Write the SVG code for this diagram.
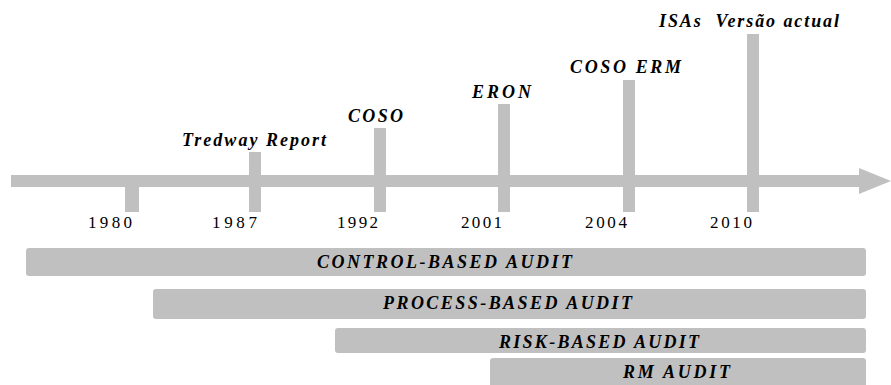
<svg xmlns="http://www.w3.org/2000/svg" width="891" height="385" viewBox="0 0 891 385">
  <style>
    .g { fill: #c0c0c0; }
    .yr { font-family: 'Liberation Serif', 'DejaVu Serif', serif; font-size: 17px; fill: #000; }
    .lb { font-family: 'Liberation Serif', 'DejaVu Serif', serif; font-size: 18px; font-weight: bold; font-style: italic; fill: #000; }
  </style>
  <rect width="891" height="385" fill="#ffffff"/>
  <g id="connectors">
    <g id="axis">
      <rect class="g" x="11" y="175" width="849" height="12"/>
      <polygon class="g" points="859,168 891,181 859,194"/>
    </g>
  </g>
  <g id="tick-1980">
    <rect class="g" x="125" y="175" width="14" height="37"/>
    <text class="yr" x="88" y="228" textLength="44" lengthAdjust="spacing">1980</text>
  </g>
  <g id="tick-1987">
    <rect class="g" x="249" y="152" width="12" height="60"/>
    <text class="yr" x="212" y="228" textLength="45" lengthAdjust="spacing">1987</text>
    <text class="lb" x="182" y="146" textLength="144" lengthAdjust="spacing">Tredway Report</text>
  </g>
  <g id="tick-1992">
    <rect class="g" x="374" y="128" width="12" height="84"/>
    <text class="yr" x="337" y="228" textLength="41" lengthAdjust="spacing">1992</text>
    <text class="lb" x="348" y="122" textLength="55" lengthAdjust="spacing">COSO</text>
  </g>
  <g id="tick-2001">
    <rect class="g" x="498" y="104" width="12" height="108"/>
    <text class="yr" x="461" y="228" textLength="41" lengthAdjust="spacing">2001</text>
    <text class="lb" x="472" y="98" textLength="59" lengthAdjust="spacing">ERON</text>
  </g>
  <g id="tick-2004">
    <rect class="g" x="623" y="80" width="12" height="132"/>
    <text class="yr" x="585" y="228" textLength="42" lengthAdjust="spacing">2004</text>
    <text class="lb" x="570" y="73" textLength="111" lengthAdjust="spacing">COSO ERM</text>
  </g>
  <g id="tick-2010">
    <rect class="g" x="747" y="34" width="12" height="178"/>
    <text class="yr" x="710" y="228" textLength="42" lengthAdjust="spacing">2010</text>
    <text class="lb" x="659" y="27" textLength="180" lengthAdjust="spacing" xml:space="preserve">ISAs  Versão actual</text>
  </g>
  <g id="bar-control">
    <rect class="g" x="26" y="248" width="840" height="28" rx="3"/>
    <text class="lb" x="317" y="268" textLength="255" lengthAdjust="spacing">CONTROL-BASED AUDIT</text>
  </g>
  <g id="bar-process">
    <rect class="g" x="153" y="289" width="713" height="30" rx="3"/>
    <text class="lb" x="383" y="309" textLength="249" lengthAdjust="spacing">PROCESS-BASED AUDIT</text>
  </g>
  <g id="bar-risk">
    <rect class="g" x="335" y="328" width="531" height="25" rx="3"/>
    <text class="lb" x="499" y="348" textLength="200" lengthAdjust="spacing">RISK-BASED AUDIT</text>
  </g>
  <g id="bar-rm">
    <rect class="g" x="490" y="358" width="376" height="32" rx="3"/>
    <text class="lb" x="623" y="378" textLength="107" lengthAdjust="spacing">RM AUDIT</text>
  </g>
</svg>
